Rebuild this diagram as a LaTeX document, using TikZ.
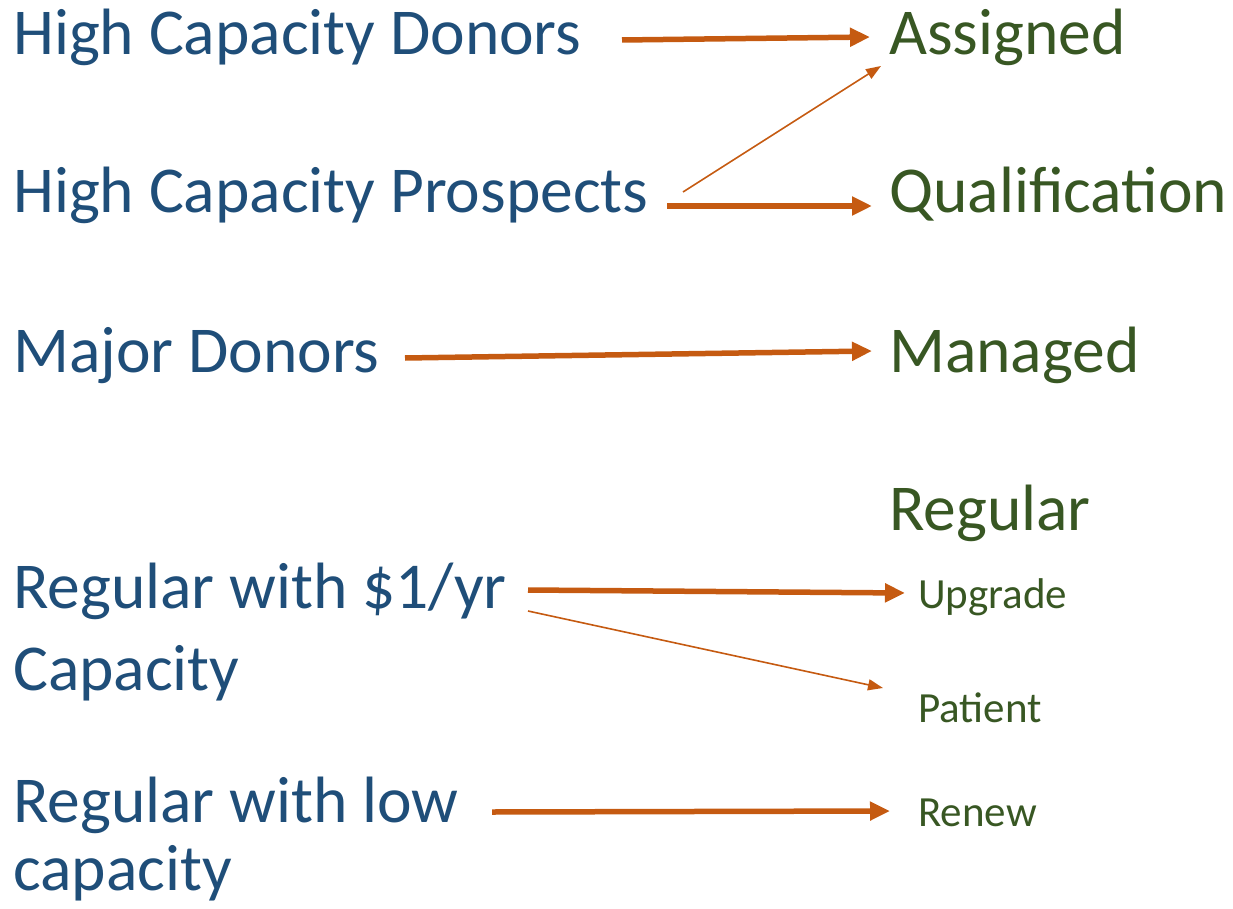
\documentclass[tikz,border=0pt]{standalone}
\usepackage{fontspec}
\setmainfont{Carlito}
\usetikzlibrary{arrows.meta}
\definecolor{txtblue}{HTML}{1F4E79}
\definecolor{txtgreen}{HTML}{385723}
\definecolor{arrorange}{HTML}{C55A11}
\begin{document}
\begin{tikzpicture}[x=1pt,y=-1pt,
  src/.style={anchor=base west,inner sep=0pt,text=txtblue,font=\fontsize{65.5}{76}\selectfont},
  dst/.style={anchor=base west,inner sep=0pt,text=txtgreen,font=\fontsize{65.5}{76}\selectfont},
  dstsmall/.style={anchor=base west,inner sep=0pt,text=txtgreen,font=\fontsize{43}{50}\selectfont},
  thickarr/.style={draw=arrorange,line width=5.5pt,-{Triangle[length=20pt,width=18pt]}},
  thinarr/.style={draw=arrorange,line width=1.6pt,-{Triangle[length=15pt,width=11pt]}}]
\useasboundingbox (0,0) rectangle (1233,909);
% sources
\node[src] (hcd) at (13,55) {High Capacity Donors};
\node[src] (hcp) at (13,213) {High Capacity Prospects};
\node[src] (md) at (13,372) {Major Donors};
\node[src] (r1) at (13,608) {Regular with \$1/yr};
\node[src] (r1b) at (13,690) {Capacity};
\node[src] (rl) at (13,822) {Regular with low};
\node[src] (rlb) at (13,890) {capacity};
% destinations
\node[dst] (asg) at (889,55) {Assigned};
\node[dst] (qual) at (889,213) {Qualification};
\node[dst] (mgd) at (889,372) {Managed};
\node[dst] (reg) at (889,530) {Regular};
\node[dstsmall] (upg) at (918,608) {Upgrade};
\node[dstsmall] (pat) at (918,722) {Patient};
\node[dstsmall] (ren) at (918,826) {Renew};
% arrow end points
\coordinate (a1s) at (622,40);  \coordinate (a1e) at (870,37);
\coordinate (a2s) at (683,192); \coordinate (a2e) at (881,66);
\coordinate (a3s) at (667,206); \coordinate (a3e) at (872,206);
\coordinate (a4s) at (405,358); \coordinate (a4e) at (872,351);
\coordinate (a5s) at (528,590); \coordinate (a5e) at (905,593);
\coordinate (a6s) at (528,611); \coordinate (a6e) at (883,688);
\coordinate (a7s) at (492,812); \coordinate (a7e) at (890,811);
\draw[thickarr] (a1s) -- (a1e);
\draw[thinarr] (a2s) -- (a2e);
\draw[thickarr] (a3s) -- (a3e);
\draw[thickarr] (a4s) -- (a4e);
\draw[thickarr] (a5s) -- (a5e);
\draw[thinarr] (a6s) -- (a6e);
\draw[thickarr] (a7s) -- (a7e);
\end{tikzpicture}
\end{document}
